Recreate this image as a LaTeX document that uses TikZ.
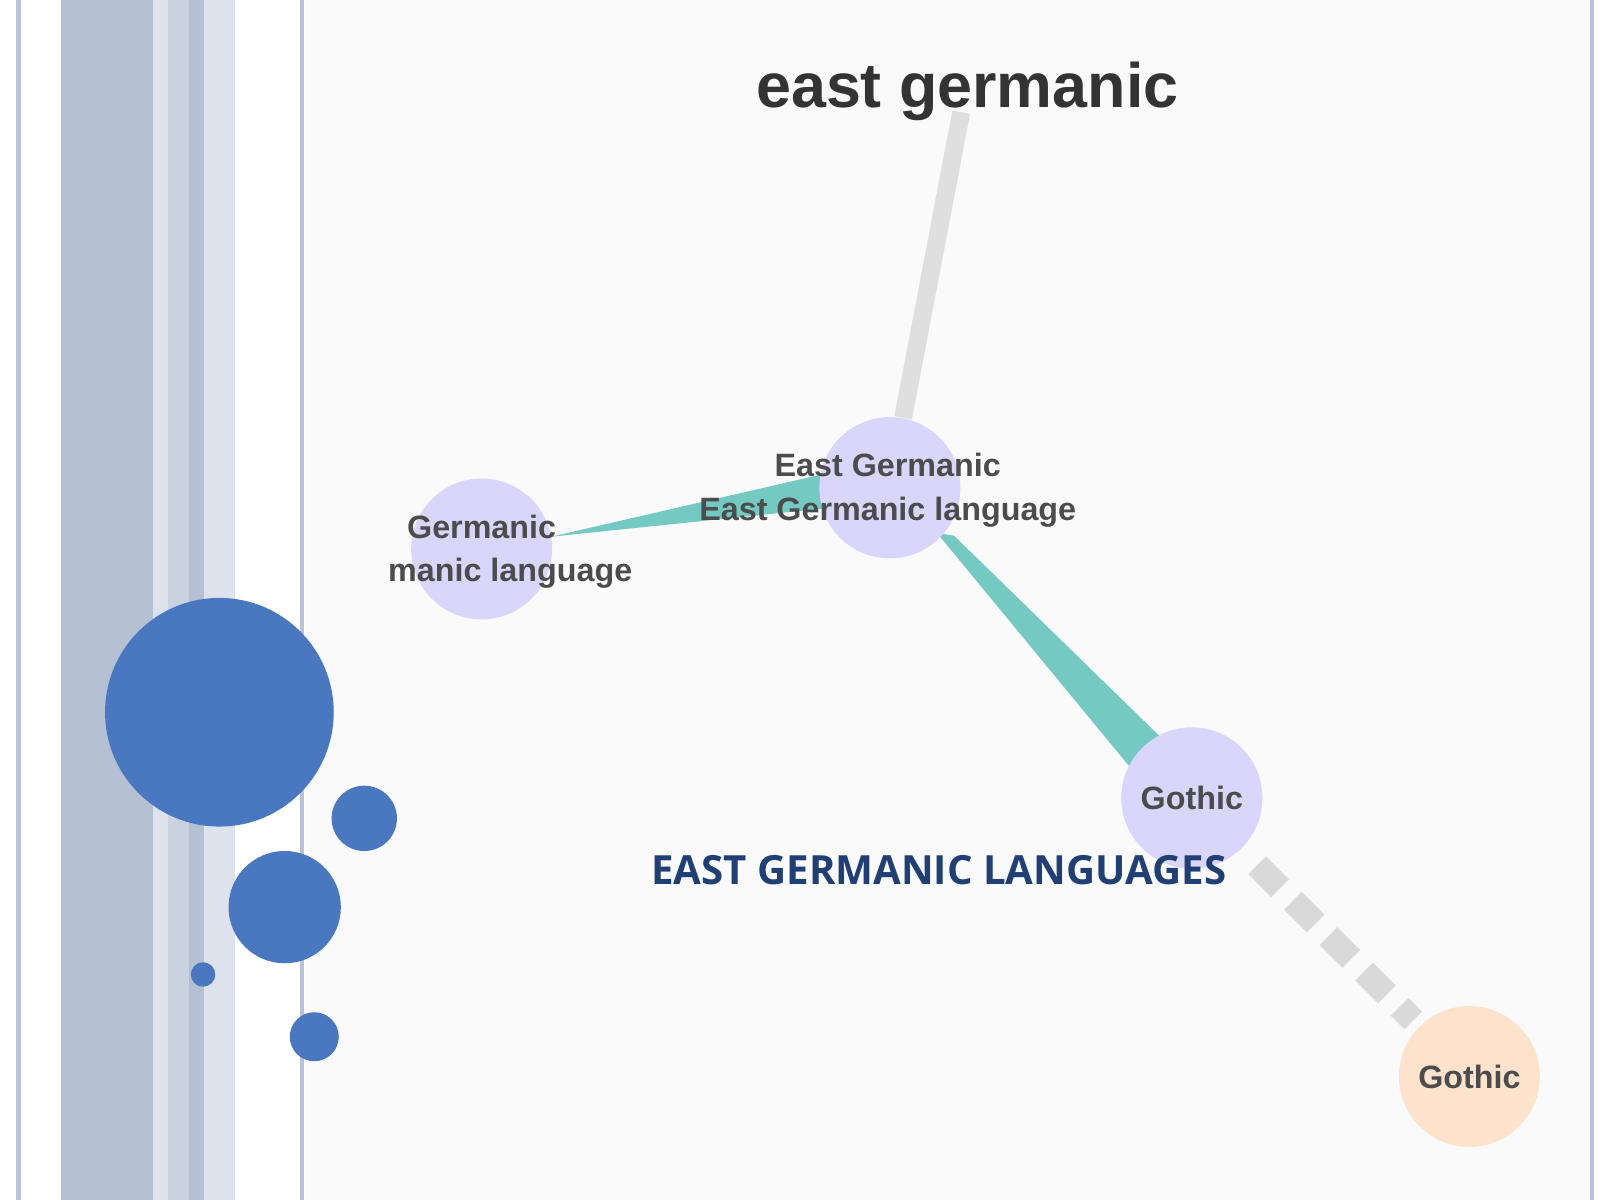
\documentclass[tikz,border=0pt]{standalone}
\usepackage{fontspec}
\setmainfont{Liberation Sans}
\newfontfamily\titlefont{Open Sans}
\begin{document}
\begin{tikzpicture}[x=0.01cm,y=-0.01cm,
  node/.style={circle,fill=#1,minimum size=1.38cm,inner sep=0pt},
  lab/.style={font=\fontsize{9}{10}\selectfont\bfseries,text=black!70},
  deco/.style={circle,fill=blueC,inner sep=0pt}]
\definecolor{blueC}{HTML}{4A78C0}
\definecolor{lav}{HTML}{DAD6FB}
\definecolor{peach}{HTML}{FDE2CC}
\definecolor{teal}{HTML}{74C9C3}
\definecolor{stripeA}{HTML}{B5C0D3}
\definecolor{stripeB}{HTML}{CBD3E1}
\definecolor{stripeC}{HTML}{DDE2EC}
\definecolor{lineC}{HTML}{B8C2DA}
\definecolor{titleC}{HTML}{1F3F75}
\useasboundingbox (0,0) rectangle (1568,1176);
\fill[white] (0,0) rectangle (1568,1176);
\fill[gray!4] (300,0) rectangle (1560,1176);
% left stripes
\fill[stripeA] (60,0) rectangle (150,1176);
\fill[stripeC] (150,0) rectangle (165,1176);
\fill[stripeB] (165,0) rectangle (185,1176);
\fill[stripeA] (185,0) rectangle (200,1176);
\fill[stripeC] (200,0) rectangle (230,1176);
\draw[lineC,line width=1.2pt] (18,0) -- (18,1176);
\draw[lineC,line width=1pt] (296,0) -- (296,1176);
\draw[lineC,line width=1pt] (1560,0) -- (1560,1176);
% edges
\coordinate (top) at (942,110);
\node[node=lav] (eg) at (872,478) {};
\node[node=lav] (g) at (472,538) {};
\node[node=lav] (go) at (1168,782) {};
\node[node=peach] (go2) at (1440,1055) {};
\draw[gray!25,line width=5pt] (top) -- (eg);
\fill[teal] (540,526) -- (805,465) -- (810,498) -- cycle;
\fill[teal] (918,522) -- (935,525) -- (1140,725) -- (1110,755) -- cycle;
\draw[gray!30,line width=7pt,dash pattern=on 9pt off 5pt] (1232,848) -- (1385,1000);
\node[node=lav] at (eg) {};
\node[node=lav] at (go) {};
% labels
\node[font=\fontsize{17.5}{20}\selectfont\bfseries,text=black!80] (t) at (948,90) {east germanic};
\node[lab] (l1) at (870,456) {East Germanic};
\node[lab] (l2) at (870,502) {East Germanic language};
\node[lab] (l3) at (472,516) {Germanic};
\node[lab] (l4) at (500,562) {manic language};
\node[lab] (l5) at (1168,782) {Gothic};
\node[lab] (l6) at (1440,1055) {Gothic};
\node[font=\titlefont\fontsize{11.2}{13}\selectfont\bfseries,text=titleC] (title) at (920,853) {EAST GERMANIC LANGUAGES};
% decorative circles
\node[deco,minimum size=2.24cm] (c1) at (215,698) {};
\node[deco,minimum size=0.64cm] (c2) at (357,802) {};
\node[deco,minimum size=1.1cm] (c3) at (279,889) {};
\node[deco,minimum size=0.24cm] (c4) at (199,955) {};
\node[deco,minimum size=0.48cm] (c5) at (308,1016) {};
\end{tikzpicture}
\end{document}
